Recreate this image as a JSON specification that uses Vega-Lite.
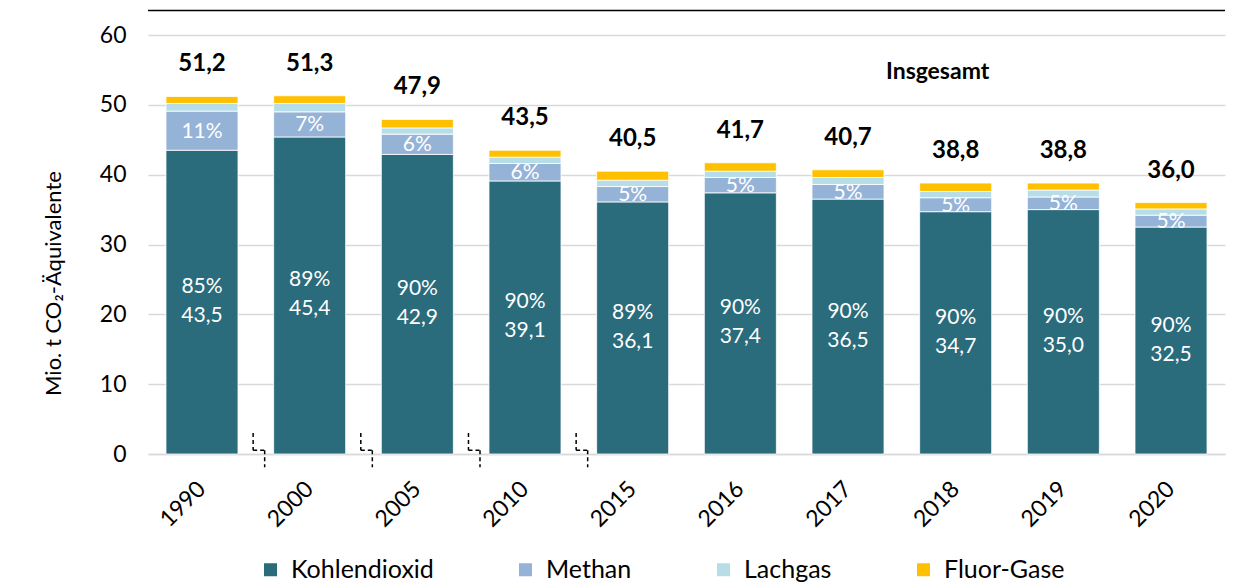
{
  "$schema": "https://vega.github.io/schema/vega-lite/v6.json",
  "width": 1077,
  "height": 419,
  "autosize": {"type": "none"},
  "padding": {"left": 148, "top": 35, "right": 19, "bottom": 129},
  "config": {
    "font": "Lato",
    "view": {"stroke": null},
    "locale": {"number": {"decimal": ",", "thousands": ".", "grouping": [3], "currency": ["", " €"]}},
    "axisX": {"labelAngle": -45, "labelAlign": "right", "labelBaseline": "middle", "labelFontSize": 23, "labelColor": "black", "ticks": false, "domainColor": "#D9D9D9", "domainWidth": 1.5, "labelPadding": 31, "grid": false},
    "axisY": {"titleFontSize": 22, "titleFontWeight": "normal", "titleColor": "black", "titlePadding": 34, "titleY": 248, "labelFontSize": 23, "labelColor": "black", "ticks": false, "domain": false, "gridColor": "#D9D9D9", "gridWidth": 1.5, "labelPadding": 22}
  },
  "datasets": {
    "gases": [
      {"year": "1990", "gas": "Kohlendioxid", "value": 43.5, "pct": 85},
      {"year": "1990", "gas": "Methan", "value": 5.6, "pct": 11},
      {"year": "1990", "gas": "Lachgas", "value": 1.1, "pct": null},
      {"year": "1990", "gas": "Fluor-Gase", "value": 1.0, "pct": null},
      {"year": "2000", "gas": "Kohlendioxid", "value": 45.4, "pct": 89},
      {"year": "2000", "gas": "Methan", "value": 3.6, "pct": 7},
      {"year": "2000", "gas": "Lachgas", "value": 1.2, "pct": null},
      {"year": "2000", "gas": "Fluor-Gase", "value": 1.1, "pct": null},
      {"year": "2005", "gas": "Kohlendioxid", "value": 42.9, "pct": 90},
      {"year": "2005", "gas": "Methan", "value": 2.9, "pct": 6},
      {"year": "2005", "gas": "Lachgas", "value": 0.9, "pct": null},
      {"year": "2005", "gas": "Fluor-Gase", "value": 1.2, "pct": null},
      {"year": "2010", "gas": "Kohlendioxid", "value": 39.1, "pct": 90},
      {"year": "2010", "gas": "Methan", "value": 2.5, "pct": 6},
      {"year": "2010", "gas": "Lachgas", "value": 0.9, "pct": null},
      {"year": "2010", "gas": "Fluor-Gase", "value": 1.0, "pct": null},
      {"year": "2015", "gas": "Kohlendioxid", "value": 36.1, "pct": 89},
      {"year": "2015", "gas": "Methan", "value": 2.2, "pct": 5},
      {"year": "2015", "gas": "Lachgas", "value": 0.9, "pct": null},
      {"year": "2015", "gas": "Fluor-Gase", "value": 1.3, "pct": null},
      {"year": "2016", "gas": "Kohlendioxid", "value": 37.4, "pct": 90},
      {"year": "2016", "gas": "Methan", "value": 2.2, "pct": 5},
      {"year": "2016", "gas": "Lachgas", "value": 0.9, "pct": null},
      {"year": "2016", "gas": "Fluor-Gase", "value": 1.2, "pct": null},
      {"year": "2017", "gas": "Kohlendioxid", "value": 36.5, "pct": 90},
      {"year": "2017", "gas": "Methan", "value": 2.1, "pct": 5},
      {"year": "2017", "gas": "Lachgas", "value": 1.0, "pct": null},
      {"year": "2017", "gas": "Fluor-Gase", "value": 1.1, "pct": null},
      {"year": "2018", "gas": "Kohlendioxid", "value": 34.7, "pct": 90},
      {"year": "2018", "gas": "Methan", "value": 2.0, "pct": 5},
      {"year": "2018", "gas": "Lachgas", "value": 0.9, "pct": null},
      {"year": "2018", "gas": "Fluor-Gase", "value": 1.2, "pct": null},
      {"year": "2019", "gas": "Kohlendioxid", "value": 35.0, "pct": 90},
      {"year": "2019", "gas": "Methan", "value": 1.8, "pct": 5},
      {"year": "2019", "gas": "Lachgas", "value": 1.0, "pct": null},
      {"year": "2019", "gas": "Fluor-Gase", "value": 1.0, "pct": null},
      {"year": "2020", "gas": "Kohlendioxid", "value": 32.5, "pct": 90},
      {"year": "2020", "gas": "Methan", "value": 1.7, "pct": 5},
      {"year": "2020", "gas": "Lachgas", "value": 0.9, "pct": null},
      {"year": "2020", "gas": "Fluor-Gase", "value": 0.9, "pct": null}
    ],
    "totals": [
      {"year": "1990", "total": 51.2},
      {"year": "2000", "total": 51.3},
      {"year": "2005", "total": 47.9},
      {"year": "2010", "total": 43.5},
      {"year": "2015", "total": 40.5},
      {"year": "2016", "total": 41.7},
      {"year": "2017", "total": 40.7},
      {"year": "2018", "total": 38.8},
      {"year": "2019", "total": 38.8},
      {"year": "2020", "total": 36.0}
    ],
    "breaks": [
      {"year": "1990"}, {"year": "2000"}, {"year": "2005"}, {"year": "2010"}
    ]
  },
  "layer": [
    {
      "data": {"name": "gases"},
      "transform": [
        {"calculate": "indexof(['Kohlendioxid','Methan','Lachgas','Fluor-Gase'], datum.gas)", "as": "k"},
        {"stack": "value", "groupby": ["year"], "sort": [{"field": "k", "order": "ascending"}], "as": ["v0", "v1"]},
        {"calculate": "(datum.v0 + datum.v1) / 2", "as": "mid"}
      ],
      "layer": [
        {
          "mark": {"type": "bar", "stroke": "white", "strokeWidth": 0.8},
          "encoding": {
            "x": {"field": "year", "type": "ordinal", "title": null, "scale": {"paddingInner": 0.331, "paddingOuter": 0.167}},
            "y": {"field": "v0", "type": "quantitative", "title": "Mio. t CO₂-Äquivalente", "scale": {"domain": [0, 60]}, "axis": {"values": [0, 10, 20, 30, 40, 50, 60]}},
            "y2": {"field": "v1"},
            "color": {
              "field": "gas", "type": "nominal",
              "scale": {"domain": ["Kohlendioxid", "Methan", "Lachgas", "Fluor-Gase"], "range": ["#2A6B7C", "#95B3D7", "#B7DEE8", "#FFC000"]},
              "legend": {"orient": "none", "legendX": 110, "legendY": 522, "direction": "horizontal", "title": null, "symbolType": "square", "symbolSize": 169, "symbolStrokeWidth": 0, "labelFontSize": 25, "labelOffset": 8, "columnPadding": 79, "padding": 0, "labelColor": "black"}
            }
          }
        },
        {
          "transform": [{"filter": "datum.gas == 'Kohlendioxid'"}, {"calculate": "datum.pct + '%'", "as": "pl"}],
          "mark": {"type": "text", "color": "white", "fontSize": 21, "dy": -15},
          "encoding": {
            "x": {"field": "year", "type": "ordinal", "title": null},
            "y": {"field": "mid", "type": "quantitative", "title": "Mio. t CO₂-Äquivalente"},
            "text": {"field": "pl"}
          }
        },
        {
          "transform": [{"filter": "datum.gas == 'Kohlendioxid'"}],
          "mark": {"type": "text", "color": "white", "fontSize": 21, "dy": 14},
          "encoding": {
            "x": {"field": "year", "type": "ordinal", "title": null},
            "y": {"field": "mid", "type": "quantitative", "title": "Mio. t CO₂-Äquivalente"},
            "text": {"field": "value", "format": ".1f"}
          }
        },
        {
          "transform": [{"filter": "datum.gas == 'Methan'"}, {"calculate": "datum.pct + '%'", "as": "pl"}],
          "mark": {"type": "text", "color": "white", "fontSize": 21, "dy": 1},
          "encoding": {
            "x": {"field": "year", "type": "ordinal", "title": null},
            "y": {"field": "mid", "type": "quantitative", "title": "Mio. t CO₂-Äquivalente"},
            "text": {"field": "pl"}
          }
        }
      ]
    },
    {
      "data": {"name": "totals"},
      "mark": {"type": "text", "color": "black", "fontSize": 24, "fontWeight": "bold", "dy": -32},
      "encoding": {
        "x": {"field": "year", "type": "ordinal", "title": null},
        "y": {"field": "total", "type": "quantitative", "title": "Mio. t CO₂-Äquivalente"},
        "text": {"field": "total", "format": ".1f"}
      }
    },
    {
      "data": {"values": [{"label": "Insgesamt"}]},
      "mark": {"type": "text", "color": "black", "fontSize": 23, "fontWeight": "bold", "dx": -18},
      "encoding": {
        "x": {"datum": "2018"},
        "y": {"datum": 54.7},
        "text": {"field": "label"}
      }
    },
    {
      "data": {"values": [{"label": "top"}]},
      "mark": {"type": "rule", "color": "black", "strokeWidth": 1.5},
      "encoding": {"y": {"datum": 63.5}}
    },
    {
      "data": {"name": "breaks"},
      "mark": {"type": "rule", "color": "black", "strokeWidth": 1.5, "strokeDash": [4, 3]},
      "encoding": {
        "x": {"field": "year", "type": "ordinal", "title": null, "bandPosition": 1.21},
        "y": {"datum": 3.0},
        "y2": {"datum": 0.55}
      }
    },
    {
      "data": {"name": "breaks"},
      "mark": {"type": "rule", "color": "black", "strokeWidth": 1.5, "strokeDash": [4, 3]},
      "encoding": {
        "x": {"field": "year", "type": "ordinal", "title": null, "bandPosition": 1.37},
        "y": {"datum": 0.55},
        "y2": {"datum": -1.9}
      }
    },
    {
      "data": {"name": "breaks"},
      "mark": {"type": "rule", "color": "black", "strokeWidth": 1.5, "strokeDash": [4, 3]},
      "encoding": {
        "x": {"field": "year", "type": "ordinal", "title": null, "bandPosition": 1.21},
        "x2": {"field": "year", "bandPosition": 1.37},
        "y": {"datum": 0.55}
      }
    }
  ]
}
